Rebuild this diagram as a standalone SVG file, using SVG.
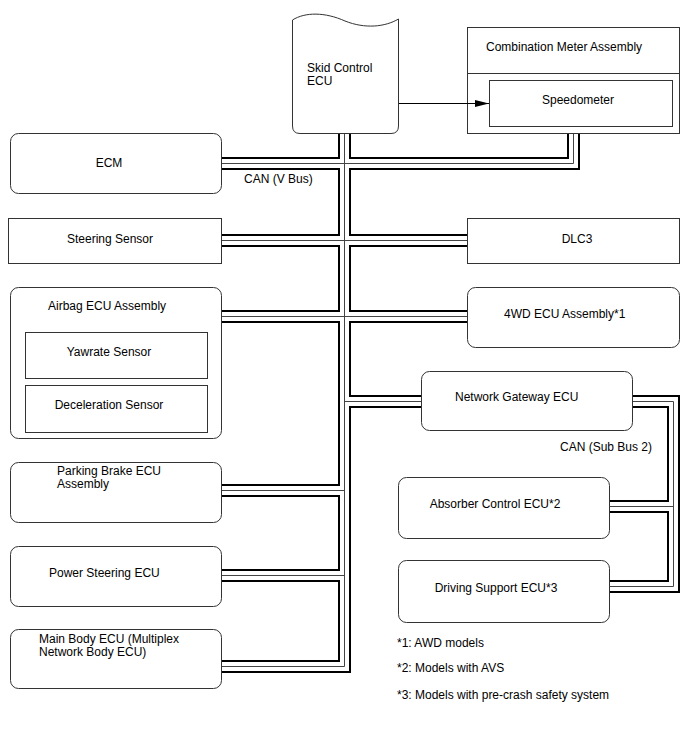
<svg xmlns="http://www.w3.org/2000/svg" width="688" height="755" viewBox="0 0 688 755">
<style>
text{font-family:"Liberation Sans",Arial,sans-serif;font-size:12px;fill:#000}
.box{fill:#fff;stroke:#333;stroke-width:1}
.c{text-anchor:middle}
.bo{fill:none;stroke:#000;stroke-width:13;stroke-linejoin:miter;stroke-linecap:butt}
.bw{fill:none;stroke:#fff;stroke-width:9;stroke-linejoin:miter;stroke-linecap:butt}
.bc{fill:none;stroke:#444;stroke-width:1;stroke-linejoin:miter;stroke-linecap:butt}
.ln{fill:none;stroke:#000;stroke-width:1}
</style>
<defs>
<marker id="arr" markerUnits="userSpaceOnUse" markerWidth="14" markerHeight="8" refX="14" refY="3.5" orient="auto">
<path d="M0,0 L14,3.5 L0,7 z" fill="#000"/>
</marker>
<g id="busPaths">
<path id="b1" d="M344.5,133 V666.5 H222"/>
<path id="b2" d="M222,163.5 H344.5"/>
<path id="b3" d="M573.5,133 V163.5 H344.5"/>
<path id="b4" d="M222,240.5 H467"/>
<path id="b5" d="M222,316.5 H467"/>
<path id="b6" d="M344.5,401.5 H421"/>
<path id="b7" d="M222,490.5 H344.5"/>
<path id="b8" d="M222,575.5 H344.5"/>
<path id="s1" d="M633,401.5 H673.5 V586.5 H610"/>
<path id="s2" d="M673.5,506.5 H610"/>
</g>
</defs>
<g id="connectors">
<g class="bo">
<use href="#b1"/><use href="#b2"/><use href="#b3"/><use href="#b4"/><use href="#b5"/><use href="#b6"/><use href="#b7"/><use href="#b8"/><use href="#s1"/><use href="#s2"/>
</g>
<g class="bw">
<use href="#b1"/><use href="#b2"/><use href="#b3"/><use href="#b4"/><use href="#b5"/><use href="#b6"/><use href="#b7"/><use href="#b8"/><use href="#s1"/><use href="#s2"/>
</g>
<g class="bc">
<use href="#b1"/><use href="#b2"/><use href="#b3"/><use href="#b4"/><use href="#b5"/><use href="#b6"/><use href="#b7"/><use href="#b8"/><use href="#s1"/><use href="#s2"/>
</g>
<text x="244" y="183">CAN (V Bus)</text>
<text x="560" y="451">CAN (Sub Bus 2)</text>
</g>
<g id="skid">
<path class="box" d="M292.5,20 C305,12 325,12 345,21 C365,29 385,27 398.5,19 V126 Q398.5,133.5 391,133.5 H300 Q292.5,133.5 292.5,126 Z"/>
<text x="307" y="72">Skid Control</text>
<text x="307" y="85">ECU</text>
</g>
<g id="meter">
<rect class="box" x="467.5" y="27.5" width="212" height="106"/>
<line class="box" x1="467.5" y1="73.5" x2="679.5" y2="73.5"/>
<text x="486" y="51">Combination Meter Assembly</text>
</g>
<g id="speedometer">
<rect class="box" x="489.5" y="80.5" width="183" height="46"/>
<text class="c" x="578" y="104">Speedometer</text>
</g>
<g id="ecm">
<rect class="box" x="10.5" y="133.5" width="211" height="60" rx="8"/>
<text class="c" x="109" y="167">ECM</text>
</g>
<g id="steering">
<rect class="box" x="8.5" y="218.5" width="213" height="45"/>
<text class="c" x="110" y="243">Steering Sensor</text>
</g>
<g id="airbag">
<rect class="box" x="10.5" y="287.5" width="211" height="151" rx="8"/>
<text x="48" y="310">Airbag ECU Assembly</text>
</g>
<g id="yawrate">
<rect class="box" x="25.5" y="332.5" width="182" height="46"/>
<text class="c" x="109" y="356">Yawrate Sensor</text>
</g>
<g id="decel">
<rect class="box" x="25.5" y="385.5" width="182" height="47"/>
<text class="c" x="109" y="409">Deceleration Sensor</text>
</g>
<g id="parking">
<rect class="box" x="10.5" y="462.5" width="211" height="60" rx="8"/>
<text x="57" y="475">Parking Brake ECU</text>
<text x="57" y="488">Assembly</text>
</g>
<g id="powersteering">
<rect class="box" x="10.5" y="546.5" width="211" height="60" rx="8"/>
<text x="49" y="577">Power Steering ECU</text>
</g>
<g id="mainbody">
<rect class="box" x="10.5" y="629.5" width="211" height="59" rx="8"/>
<text x="39" y="643">Main Body ECU (Multiplex</text>
<text x="39" y="656">Network Body ECU)</text>
</g>
<g id="dlc3">
<rect class="box" x="467.5" y="218.5" width="212" height="45"/>
<text class="c" x="577" y="243">DLC3</text>
</g>
<g id="fourwd">
<rect class="box" x="467.5" y="287.5" width="212" height="60" rx="8"/>
<text x="504" y="318">4WD ECU Assembly*1</text>
</g>
<g id="gateway">
<rect class="box" x="421.5" y="371.5" width="211" height="59" rx="8"/>
<text x="455" y="401">Network Gateway ECU</text>
</g>
<g id="absorber">
<rect class="box" x="398.5" y="477.5" width="211" height="61" rx="8"/>
<text class="c" x="495" y="508">Absorber Control ECU*2</text>
</g>
<g id="driving">
<rect class="box" x="398.5" y="560.5" width="211" height="62" rx="8"/>
<text class="c" x="496" y="592">Driving Support ECU*3</text>
</g>
<g id="notes">
<text x="397" y="647">*1: AWD models</text>
<text x="397" y="672">*2: Models with AVS</text>
<text x="397" y="699">*3: Models with pre-crash safety system</text>
</g>
<g id="arrow-connector">
<path class="ln" d="M399,103.5 H489" marker-end="url(#arr)"/>
</g>
</svg>
